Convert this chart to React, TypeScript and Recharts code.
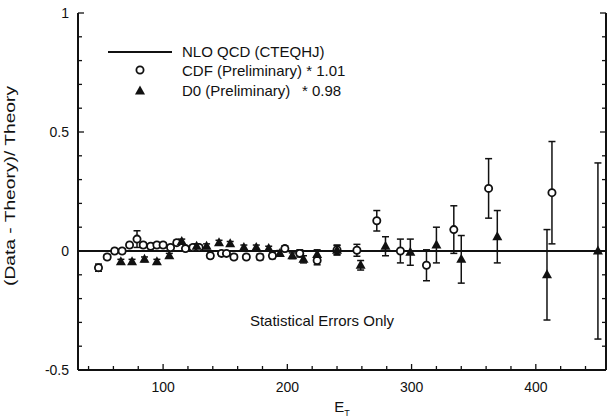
import React from 'react'
import { ScatterChart, Scatter, XAxis, YAxis, ReferenceLine, ErrorBar } from 'recharts'

// CDF (Preliminary) * 1.01
const cdfEt = [48, 55, 61, 67, 73, 79, 84, 90, 95, 100, 106, 111, 118, 124, 129, 138, 147, 151, 157, 167, 178, 188, 198, 210, 224, 240, 256, 272, 291, 312, 334, 362, 413]
const cdfRatio = [-0.07, -0.025, 0.0, 0.0, 0.025, 0.05, 0.025, 0.02, 0.025, 0.025, 0.015, 0.035, 0.01, 0.015, 0.015, -0.02, -0.01, -0.01, -0.025, -0.025, -0.025, -0.02, 0.01, -0.01, -0.04, 0.005, 0.003, 0.127, 0.0, -0.06, 0.09, 0.263, 0.245]
const cdfErr = [0.015, 0.01, 0.01, 0.01, 0.01, 0.035, 0.01, 0.01, 0.01, 0.01, 0.01, 0.01, 0.01, 0.01, 0.01, 0.01, 0.01, 0.01, 0.01, 0.01, 0.012, 0.012, 0.012, 0.015, 0.018, 0.02, 0.025, 0.043, 0.05, 0.065, 0.1, 0.125, 0.215]

// D0 (Preliminary) * 0.98
const d0Et = [66, 75, 85, 95, 105, 115, 127, 135, 145, 154, 165, 175, 185, 194, 204, 213, 224, 240, 259, 279, 299, 320, 340, 369, 409, 450]
const d0Ratio = [-0.045, -0.045, -0.035, -0.045, -0.02, 0.04, 0.02, 0.02, 0.035, 0.03, 0.015, 0.015, 0.01, -0.01, -0.02, -0.035, -0.015, 0.003, -0.06, 0.02, -0.005, 0.025, -0.035, 0.06, -0.1, 0.0]
const d0Err = [0.01, 0.01, 0.01, 0.01, 0.01, 0.01, 0.01, 0.01, 0.01, 0.01, 0.01, 0.01, 0.01, 0.012, 0.012, 0.015, 0.02, 0.02, 0.02, 0.04, 0.055, 0.075, 0.1, 0.11, 0.19, 0.37]

const xMajor = [100, 200, 300, 400]
const xTicks = [40, 60, 80, 100, 120, 140, 160, 180, 200, 220, 240, 260, 280, 300, 320, 340, 360, 380, 400, 420, 440]
const yMajor = [-0.5, 0, 0.5, 1]
const yTicks = [-0.5, -0.4, -0.3, -0.2, -0.1, 0, 0.1, 0.2, 0.3, 0.4, 0.5, 0.6, 0.7, 0.8, 0.9, 1]

const cdfData = cdfEt.map((x, i) => ({ x, y: cdfRatio[i], err: cdfErr[i] }))
const d0Data = d0Et.map((x, i) => ({ x, y: d0Ratio[i], err: d0Err[i] }))

const FONT = '"Liberation Sans", Arial, sans-serif'
const INK = '#111'

const BottomTick = (p: any) => {
  const v = p.payload.value
  const major = xMajor.includes(v)
  return (
    <g>
      <line x1={p.x} y1={p.y} x2={p.x} y2={p.y - (major ? 6 : 4)} stroke={INK} strokeWidth={1.3} />
      {major && (
        <text x={p.x} y={p.y + 22} textAnchor="middle" fontSize={14} fill={INK} fontFamily={FONT}>
          {v}
        </text>
      )}
    </g>
  )
}

const TopTick = (p: any) => {
  const major = xMajor.includes(p.payload.value)
  return <line x1={p.x} y1={p.y} x2={p.x} y2={p.y + (major ? 6 : 4)} stroke={INK} strokeWidth={1.3} />
}

const LeftTick = (p: any) => {
  const v = p.payload.value
  const major = yMajor.includes(v)
  return (
    <g>
      <line x1={p.x} y1={p.y} x2={p.x + (major ? 6 : 4)} y2={p.y} stroke={INK} strokeWidth={1.3} />
      {major && (
        <text x={p.x - 9} y={p.y + 5} textAnchor="end" fontSize={14} fill={INK} fontFamily={FONT}>
          {v}
        </text>
      )}
    </g>
  )
}

const RightTick = (p: any) => {
  const major = yMajor.includes(p.payload.value)
  return <line x1={p.x} y1={p.y} x2={p.x - (major ? 6 : 4)} y2={p.y} stroke={INK} strokeWidth={1.3} />
}

const OpenCircle = (p: any) => (
  <circle cx={p.cx} cy={p.cy} r={3.6} fill="#fff" stroke={INK} strokeWidth={1.8} />
)

const Triangle = (p: any) => (
  <path d={`M${p.cx},${p.cy - 5.5}L${p.cx + 5},${p.cy + 3.5}L${p.cx - 5},${p.cy + 3.5}Z`} fill={INK} />
)

export default function App() {
  return (
    <div style={{ position: 'absolute', left: 0, top: 0, width: 607, height: 419, background: '#fff', fontFamily: FONT }}>
      <ScatterChart width={607} height={419} margin={{ top: 13, right: 0, bottom: 0, left: 0 }}>
        <XAxis
          xAxisId="b"
          type="number"
          dataKey="x"
          domain={[31.5, 456.5]}
          allowDataOverflow
          ticks={xTicks}
          interval={0}
          height={49}
          tickSize={0}
          tickMargin={0}
          tickLine={false}
          axisLine={{ stroke: INK, strokeWidth: 2 }}
          tick={<BottomTick />}
        />
        <XAxis
          xAxisId="t"
          orientation="top"
          type="number"
          dataKey="x"
          domain={[31.5, 456.5]}
          allowDataOverflow
          ticks={xTicks}
          interval={0}
          height={0}
          tickSize={0}
          tickMargin={0}
          tickLine={false}
          axisLine={{ stroke: INK, strokeWidth: 2 }}
          tick={<TopTick />}
        />
        <YAxis
          yAxisId="l"
          type="number"
          dataKey="y"
          domain={[-0.5, 1]}
          allowDataOverflow
          ticks={yTicks}
          interval={0}
          width={78}
          tickSize={0}
          tickMargin={0}
          tickLine={false}
          axisLine={{ stroke: INK, strokeWidth: 2 }}
          tick={<LeftTick />}
        />
        <YAxis
          yAxisId="r"
          orientation="right"
          type="number"
          dataKey="y"
          domain={[-0.5, 1]}
          allowDataOverflow
          ticks={yTicks}
          interval={0}
          width={1}
          tickSize={0}
          tickMargin={0}
          tickLine={false}
          axisLine={{ stroke: INK, strokeWidth: 2 }}
          tick={<RightTick />}
        />
        <ReferenceLine xAxisId="b" yAxisId="l" y={0} stroke={INK} strokeWidth={2} />
        <Scatter xAxisId="b" yAxisId="l" name="CDF" data={cdfData} shape={<OpenCircle />} isAnimationActive={false}>
          <ErrorBar dataKey="err" direction="y" width={3.5} stroke={INK} strokeWidth={1.5} />
        </Scatter>
        <Scatter xAxisId="b" yAxisId="l" name="D0" data={d0Data} shape={<Triangle />} isAnimationActive={false}>
          <ErrorBar dataKey="err" direction="y" width={3.5} stroke={INK} strokeWidth={1.5} />
        </Scatter>
      </ScatterChart>
      <svg width={607} height={419} style={{ position: 'absolute', left: 0, top: 0, pointerEvents: 'none' }}>
        <g fill={INK} fontSize={15} fontFamily={FONT}>
          <line x1={108} y1={52} x2={172} y2={52} stroke={INK} strokeWidth={2} />
          <text x={182} y={57}>NLO QCD (CTEQHJ)</text>
          <circle cx={140} cy={70} r={3.6} fill="#fff" stroke={INK} strokeWidth={1.8} />
          <text x={182} y={76}>CDF (Preliminary) * 1.01</text>
          <path d="M140,85.5L145,94.5L135,94.5Z" fill={INK} />
          <text x={182} y={96}>D0 (Preliminary)</text>
          <text x={302} y={96}>* 0.98</text>
          <text x={322} y={326} textAnchor="middle">Statistical Errors Only</text>
          <text
            x={15}
            y={186}
            textAnchor="middle"
            textLength={200}
            lengthAdjust="spacingAndGlyphs"
            transform="rotate(-90 15 186)"
          >
            (Data - Theory)/ Theory
          </text>
          <text x={342} y={412} textAnchor="middle">
            E<tspan fontSize={9} dy={4}>T</tspan>
          </text>
        </g>
      </svg>
    </div>
  )
}
